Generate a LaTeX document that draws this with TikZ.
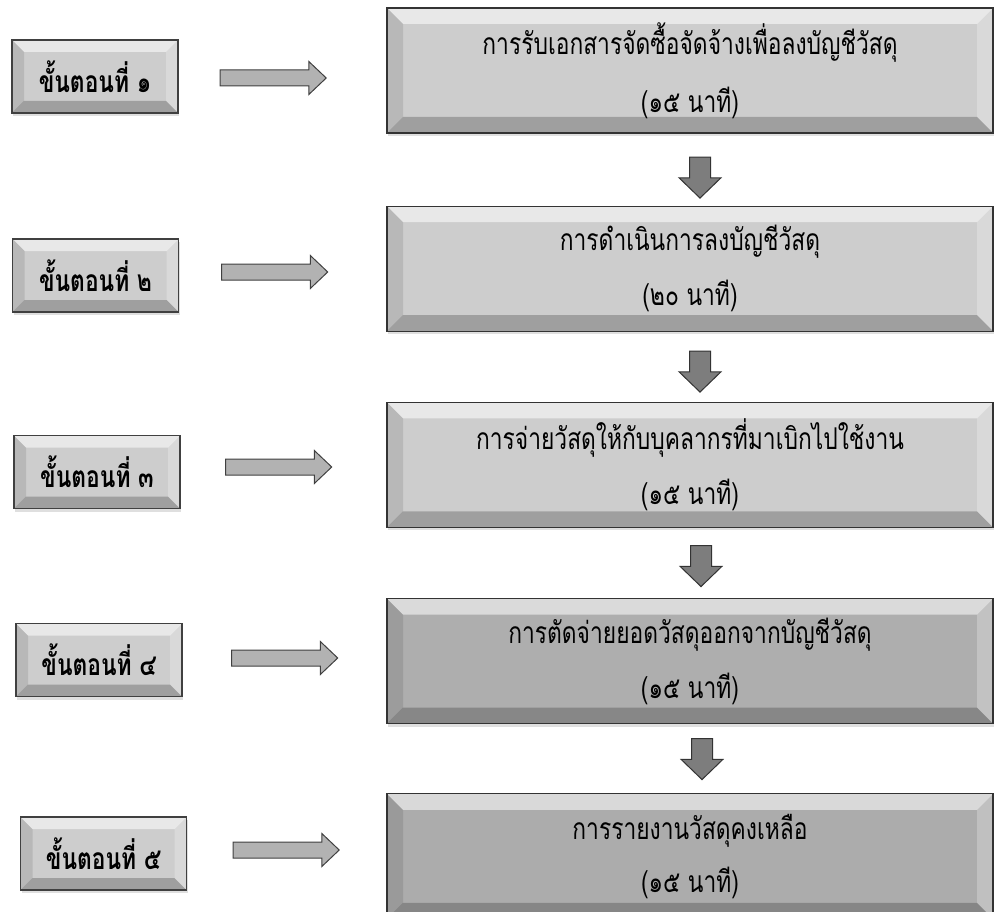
\documentclass[tikz,border=0pt]{standalone}
\usepackage{fontspec}
\setmainfont[Script=Thai, FakeStretch=0.76]{Loma}
\usetikzlibrary{positioning,shapes.arrows,shadows}

\definecolor{boxgray}{RGB}{205,205,205}
\definecolor{boxdark}{RGB}{172,172,172}
\definecolor{arrowgray}{RGB}{178,178,178}
\definecolor{downgray}{RGB}{125,125,125}

\begin{document}
\begin{tikzpicture}[
  x=1pt, y=-1pt,
  bevel/.style={path picture={
    \coordinate (nw) at (path picture bounding box.north west);
    \coordinate (ne) at (path picture bounding box.north east);
    \coordinate (sw) at (path picture bounding box.south west);
    \coordinate (se) at (path picture bounding box.south east);
    \fill[white,opacity=.55] (nw) -- (ne) -- ([xshift=-#1,yshift=-#1]ne)
      -- ([xshift=#1,yshift=-#1]nw) -- cycle;
    \fill[black,opacity=.10] (nw) -- ([xshift=#1,yshift=-#1]nw)
      -- ([xshift=#1,yshift=#1]sw) -- (sw) -- cycle;
    \fill[white,opacity=.25] (ne) -- ([xshift=-#1,yshift=-#1]ne)
      -- ([xshift=-#1,yshift=#1]se) -- (se) -- cycle;
    \fill[black,opacity=.22] (sw) -- ([xshift=#1,yshift=#1]sw)
      -- ([xshift=-#1,yshift=#1]se) -- (se) -- cycle;
  }},
  stepbox/.style={draw=black!75, line width=1.2pt, fill=boxgray,
                  minimum width=166pt, minimum height=73pt, bevel=12pt,
                  font=\fontsize{30}{36}\selectfont\bfseries,
                  drop shadow={shadow xshift=1pt, shadow yshift=-3pt, opacity=.25}},
  taskbox/.style={draw=black!80, line width=1.2pt, fill=boxgray,
                  minimum width=606pt, minimum height=125pt, bevel=16pt,
                  align=center, font=\fontsize{30}{36}\selectfont,
                  drop shadow={shadow xshift=1pt, shadow yshift=-3pt, opacity=.25}},
  rightarrow/.style={single arrow, draw=black!75, fill=arrowgray, line width=1pt,
                     inner sep=7.5pt, minimum height=106pt, minimum width=32pt,
                     single arrow head extend=8.5pt, single arrow tip angle=87},
  downarrow/.style={single arrow, shape border rotate=270, draw=black!80,
                    fill=downgray, line width=1pt, inner sep=10pt,
                    minimum height=41pt, minimum width=41pt,
                    single arrow head extend=10.5pt, single arrow tip angle=92},
]
  \useasboundingbox (0,0) rectangle (1001,912);

  % steps on the left
  \node[stepbox] (s1) at (95,76.5)   {ขั้นตอนที่ ๑};
  \node[stepbox] (s2) at (95.5,275.5) {ขั้นตอนที่ ๒};
  \node[stepbox] (s3) at (97,472)    {ขั้นตอนที่ ๓};
  \node[stepbox] (s4) at (99,660)    {ขั้นตอนที่ ๔};
  \node[stepbox] (s5) at (103.5,853.5) {ขั้นตอนที่ ๕};

  % tasks on the right
  \node[taskbox] (t1) at (690,70.5)
    {การรับเอกสารจัดซื้อจัดจ้างเพื่อลงบัญชีวัสดุ\\[22pt](๑๕ นาที)};
  \node[taskbox, below=72pt of t1] (t2)
    {การดำเนินการลงบัญชีวัสดุ\\[19pt](๒๐ นาที)};
  \node[taskbox, below=70pt of t2] (t3)
    {การจ่ายวัสดุให้กับบุคลากรที่มาเบิกไปใช้งาน\\[19pt](๑๕ นาที)};
  \node[taskbox, below=70pt of t3, fill=boxgray!85!black] (t4)
    {การตัดจ่ายยอดวัสดุออกจากบัญชีวัสดุ\\[19pt](๑๕ นาที)};
  \node[taskbox, below=69pt of t4, fill=boxdark] (t5)
    {การรายงานวัสดุคงเหลือ\\[17pt](๑๕ นาที)};

  % arrows
  \node[rightarrow] (a1) at (269,78)    {};
  \node[rightarrow] (a2) at (270.5,272) {};
  \node[rightarrow] (a3) at (274.5,467) {};
  \node[rightarrow] (a4) at (280.5,658) {};
  \node[rightarrow] (a5) at (282,850)   {};

  \node[downarrow] (d1) at (700,172.5) {};
  \node[downarrow] (d2) at (700,366.5) {};
  \node[downarrow] (d3) at (701,561)   {};
  \node[downarrow] (d4) at (702,754)   {};
\end{tikzpicture}
\end{document}
